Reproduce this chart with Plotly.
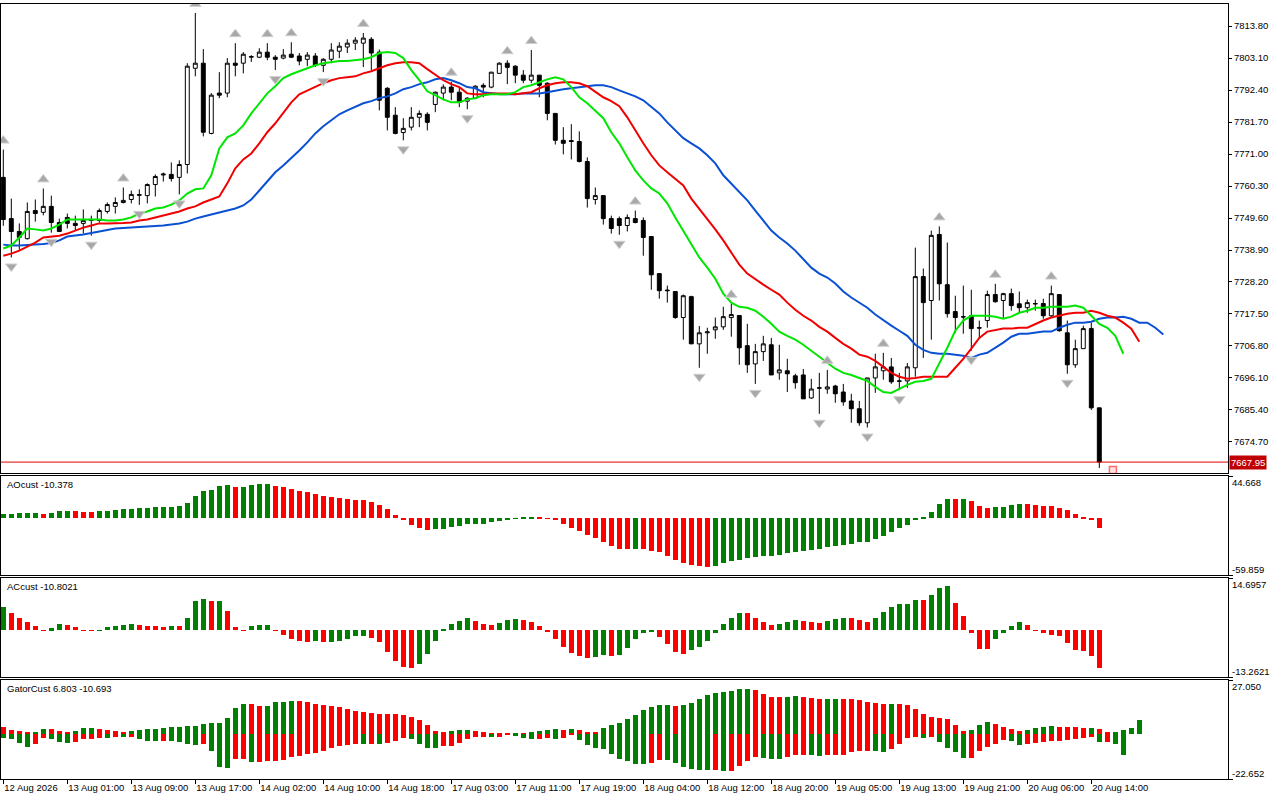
import plotly.graph_objects as go

# H1 bars, 12 Aug 2026 17:00 .. 20 Aug 2026 15:00
OPEN = [
    7763.2, 7749.4, 7745.1, 7742.7, 7752.1, 7751.5, 7753.5, 7748.1, 7749.8, 7747.8,
    7747.8, 7748.8, 7748.8, 7751.8, 7753.5, 7754.8, 7755.8, 7757.2, 7757.1, 7760.8,
    7764.0, 7764.2, 7763.2, 7767.5, 7799.7, 7801.4, 7777.9, 7791.4, 7791.4, 7801.4,
    7801.4, 7803.4, 7803.4, 7805.1, 7803.4, 7803.1, 7804.4, 7803.8, 7802.7, 7803.8,
    7800.7, 7802.7, 7805.4, 7806.8, 7808.1, 7808.1, 7809.4, 7805.1, 7793.0, 7784.0,
    7778.2, 7780.0, 7783.3, 7784.3, 7787.6, 7791.4, 7793.4, 7791.7, 7788.7, 7789.7,
    7794.0, 7793.4, 7798.0, 7801.4, 7800.4, 7797.4, 7795.7, 7797.4, 7794.7, 7784.6,
    7775.6, 7775.5, 7775.2, 7768.5, 7755.8, 7757.1, 7749.4, 7749.4, 7747.1, 7749.4,
    7748.8, 7743.4, 7731.0, 7725.5, 7725.0, 7716.3, 7723.3, 7707.5, 7711.2, 7712.2,
    7713.2, 7716.3, 7717.0, 7706.9, 7700.8, 7704.9, 7707.2, 7697.8, 7698.5, 7696.8,
    7697.1, 7689.4, 7692.8, 7692.4, 7693.4, 7691.4, 7688.4, 7685.8, 7681.1, 7696.1,
    7698.5, 7699.8, 7695.1, 7695.1, 7699.5, 7730.0, 7722.0, 7744.1, 7727.3, 7718.3,
    7716.6, 7716.9, 7712.9, 7715.3, 7724.0, 7722.0, 7724.3, 7720.9, 7719.6, 7721.0,
    7721.0, 7716.9, 7724.0, 7711.2, 7700.5, 7705.9, 7712.6, 7686.1,
]
HIGH = [
    7772.5, 7756.1, 7747.8, 7754.8, 7755.8, 7759.5, 7757.1, 7749.4, 7751.1, 7750.4,
    7752.5, 7750.4, 7752.8, 7754.8, 7756.5, 7759.8, 7758.8, 7759.2, 7761.2, 7764.2,
    7764.8, 7768.2, 7768.9, 7801.4, 7818.2, 7806.1, 7791.4, 7798.4, 7803.1, 7808.1,
    7805.1, 7804.1, 7806.4, 7808.1, 7804.1, 7806.1, 7808.4, 7804.8, 7805.1, 7804.8,
    7803.1, 7808.1, 7808.4, 7809.4, 7810.1, 7811.5, 7810.1, 7806.0, 7793.4, 7786.7,
    7783.0, 7786.7, 7785.6, 7785.0, 7791.9, 7794.3, 7795.2, 7793.4, 7790.0, 7794.0,
    7794.7, 7798.4, 7801.7, 7802.4, 7800.7, 7799.1, 7805.8, 7797.4, 7795.0, 7784.6,
    7780.0, 7781.0, 7778.6, 7769.9, 7759.8, 7757.1, 7750.4, 7750.1, 7750.8, 7752.1,
    7749.8, 7743.4, 7731.0, 7727.0, 7725.0, 7724.0, 7723.6, 7713.5, 7712.9, 7716.3,
    7719.9, 7720.9, 7717.0, 7714.2, 7707.5, 7710.2, 7709.5, 7707.2, 7702.5, 7697.5,
    7699.1, 7695.8, 7697.8, 7698.8, 7693.8, 7694.1, 7690.8, 7688.4, 7696.1, 7704.2,
    7704.5, 7702.8, 7697.8, 7701.1, 7739.7, 7732.7, 7745.4, 7746.8, 7741.4, 7723.6,
    7727.0, 7725.6, 7715.3, 7725.3, 7727.6, 7724.6, 7726.0, 7725.0, 7722.3, 7722.3,
    7722.6, 7727.0, 7724.0, 7715.3, 7708.9, 7713.6, 7714.6, 7686.1,
]
LOW = [
    7747.0, 7736.4, 7739.0, 7742.4, 7748.4, 7750.5, 7744.7, 7744.9, 7746.1, 7745.4,
    7744.4, 7743.7, 7748.1, 7751.1, 7751.1, 7754.5, 7754.5, 7754.0, 7754.5, 7756.8,
    7761.8, 7761.8, 7757.5, 7764.5, 7797.0, 7776.9, 7777.6, 7789.7, 7790.0, 7797.0,
    7798.0, 7801.8, 7803.1, 7802.4, 7799.1, 7802.7, 7803.1, 7800.7, 7800.4, 7800.1,
    7798.4, 7801.4, 7803.1, 7804.8, 7805.8, 7800.1, 7799.1, 7785.6, 7778.9, 7777.6,
    7775.6, 7778.9, 7780.0, 7778.9, 7785.0, 7789.0, 7789.0, 7786.7, 7786.0, 7789.4,
    7790.0, 7793.0, 7798.0, 7794.4, 7794.7, 7794.7, 7794.7, 7790.0, 7782.3, 7774.2,
    7770.9, 7769.2, 7768.2, 7753.1, 7754.1, 7747.4, 7744.4, 7744.0, 7745.1, 7747.8,
    7737.0, 7725.6, 7722.6, 7721.3, 7715.9, 7708.9, 7707.5, 7699.5, 7704.2, 7709.2,
    7712.2, 7709.9, 7700.5, 7697.8, 7694.1, 7701.8, 7697.1, 7695.5, 7691.4, 7692.5,
    7689.1, 7689.1, 7684.1, 7690.8, 7687.8, 7686.8, 7681.1, 7680.1, 7679.5, 7691.1,
    7695.5, 7694.1, 7692.0, 7692.8, 7696.5, 7702.8, 7708.9, 7722.0, 7716.3, 7711.2,
    7710.9, 7705.2, 7709.2, 7712.9, 7721.3, 7715.9, 7718.6, 7717.9, 7717.9, 7718.6,
    7715.9, 7716.3, 7711.6, 7697.5, 7699.5, 7705.9, 7685.4, 7666.0,
]
CLOSE = [
    7749.1, 7745.1, 7743.1, 7751.8, 7751.1, 7753.5, 7748.1, 7745.1, 7747.8, 7747.1,
    7748.8, 7749.0, 7752.1, 7754.1, 7754.8, 7755.5, 7757.5, 7757.4, 7760.8, 7763.5,
    7764.3, 7762.8, 7767.5, 7800.4, 7801.4, 7778.3, 7790.7, 7790.7, 7801.4, 7800.7,
    7804.4, 7803.6, 7805.1, 7803.4, 7802.7, 7804.1, 7803.4, 7802.1, 7804.1, 7800.7,
    7802.7, 7805.8, 7807.1, 7808.1, 7809.1, 7809.8, 7804.8, 7789.0, 7783.3, 7777.9,
    7779.6, 7783.3, 7784.6, 7781.6, 7791.7, 7793.4, 7791.7, 7788.3, 7789.7, 7793.7,
    7793.4, 7798.4, 7801.4, 7800.0, 7797.4, 7795.7, 7797.4, 7794.0, 7784.6, 7775.6,
    7774.6, 7775.2, 7768.5, 7756.1, 7757.1, 7749.4, 7746.1, 7747.1, 7749.8, 7748.1,
    7743.1, 7730.6, 7725.3, 7725.3, 7716.3, 7723.6, 7707.5, 7711.2, 7711.5, 7713.2,
    7716.6, 7717.3, 7706.2, 7700.5, 7704.9, 7707.5, 7697.1, 7698.8, 7697.5, 7694.5,
    7689.1, 7692.4, 7692.7, 7693.1, 7690.8, 7688.1, 7685.8, 7681.1, 7696.1, 7699.8,
    7699.8, 7694.8, 7695.0, 7699.8, 7730.0, 7721.3, 7743.8, 7727.6, 7717.6, 7716.3,
    7716.5, 7712.6, 7712.8, 7724.0, 7721.6, 7724.3, 7720.3, 7719.6, 7721.3, 7720.9,
    7716.9, 7724.3, 7711.9, 7700.5, 7705.9, 7712.6, 7686.1, 7667.95,
]

# Alligator lines (already shifted forward: jaw +8, teeth +5, lips +3 bars)
JAW = [
    7740.7, 7740.4, 7740.4, 7740.5, 7740.7, 7740.9, 7741.2, 7742.1, 7743.4, 7743.7,
    7744.1, 7744.6, 7745.1, 7745.6, 7746.1, 7746.3, 7746.4, 7746.6, 7746.8, 7746.9,
    7747.1, 7747.4, 7747.8, 7748.4, 7749.4, 7750.1, 7750.8, 7751.5, 7752.1, 7752.8,
    7753.8, 7755.8, 7758.8, 7761.8, 7764.9, 7767.2, 7769.6, 7772.2, 7774.9, 7777.9,
    7780.3, 7782.3, 7784.3, 7785.6, 7786.7, 7788.0, 7788.7, 7789.7, 7790.3, 7791.3,
    7792.7, 7793.4, 7794.4, 7795.0, 7796.0, 7796.4, 7795.7, 7794.7, 7793.4, 7793.0,
    7791.7, 7791.3, 7791.0, 7791.0, 7791.0, 7791.3, 7791.3, 7791.3, 7791.7, 7792.3,
    7792.7, 7793.0, 7793.4, 7793.7, 7794.0, 7794.0, 7793.4, 7792.3, 7791.3, 7790.3,
    7789.0, 7786.7, 7784.6, 7781.6, 7778.9, 7776.3, 7774.6, 7772.9, 7770.6, 7767.9,
    7763.9, 7761.2, 7758.2, 7755.5, 7752.1, 7748.8, 7745.4, 7743.1, 7741.1, 7738.7,
    7736.0, 7733.0, 7731.0, 7729.7, 7727.7, 7725.0, 7723.0, 7721.3, 7719.6, 7717.3,
    7715.3, 7713.6, 7711.9, 7710.2, 7707.2, 7705.5, 7704.5, 7704.2, 7704.2, 7703.9,
    7703.5, 7702.8, 7703.9, 7704.5, 7706.2, 7707.9, 7709.9, 7710.9, 7710.9, 7711.2,
    7711.6, 7711.6, 7712.9, 7713.9, 7714.6, 7714.6, 7714.9, 7715.9, 7716.3, 7716.3,
    7716.6, 7715.9, 7714.6, 7714.6, 7712.9, 7710.6,
]
TEETH = [
    7737.0, 7737.7, 7738.7, 7740.1, 7741.4, 7743.1, 7743.4, 7743.7, 7744.4, 7745.4,
    7746.4, 7747.1, 7747.8, 7747.8, 7747.8, 7747.9, 7748.1, 7748.8, 7749.1, 7749.8,
    7750.4, 7751.1, 7751.8, 7752.8, 7753.5, 7754.8, 7755.8, 7756.8, 7761.2, 7766.2,
    7769.2, 7771.2, 7774.6, 7778.3, 7781.3, 7784.6, 7788.3, 7791.0, 7792.3, 7793.4,
    7794.7, 7795.7, 7796.4, 7796.7, 7797.0, 7798.0, 7798.7, 7799.7, 7800.7, 7801.4,
    7801.7, 7801.7, 7801.4, 7799.4, 7797.4, 7795.7, 7794.4, 7793.4, 7791.3, 7791.0,
    7791.0, 7791.3, 7791.3, 7791.3, 7791.0, 7791.3, 7791.7, 7793.0, 7794.0, 7794.7,
    7795.0, 7795.0, 7794.7, 7793.7, 7791.7, 7790.0, 7788.7, 7787.0, 7783.3, 7778.9,
    7774.6, 7770.6, 7767.2, 7764.9, 7762.8, 7760.5, 7756.1, 7752.8, 7749.4, 7745.8,
    7742.1, 7738.0, 7734.0, 7731.0, 7729.0, 7727.3, 7725.6, 7724.0, 7721.3, 7718.9,
    7716.9, 7715.3, 7713.2, 7711.6, 7709.5, 7707.5, 7705.9, 7703.9, 7703.2, 7701.8,
    7699.8, 7697.8, 7696.5, 7695.8, 7696.1, 7696.5, 7696.5, 7696.5, 7696.5, 7699.5,
    7702.5, 7705.9, 7709.5, 7711.6, 7712.2, 7712.6, 7712.6, 7712.9, 7712.9, 7714.2,
    7715.3, 7716.3, 7716.9, 7717.6, 7717.9, 7717.9, 7718.6, 7717.9, 7716.9, 7716.3,
    7714.6, 7712.6, 7708.2,
]
LIPS = [
    7739.4, 7740.4, 7743.1, 7746.1, 7745.8, 7745.4, 7746.1, 7747.4, 7749.1, 7749.1,
    7749.1, 7749.1, 7749.1, 7748.8, 7748.8, 7749.1, 7749.8, 7751.1, 7751.8, 7752.8,
    7753.1, 7754.1, 7755.5, 7757.8, 7759.2, 7759.5, 7763.9, 7772.9, 7776.6, 7777.9,
    7780.6, 7784.6, 7788.0, 7791.3, 7793.7, 7796.4, 7797.7, 7798.7, 7799.7, 7800.7,
    7801.4, 7801.7, 7802.1, 7802.1, 7802.4, 7802.7, 7803.4, 7804.8, 7805.1, 7804.8,
    7803.1, 7799.1, 7795.7, 7792.0, 7790.7, 7789.3, 7788.3, 7788.3, 7789.3, 7789.7,
    7790.7, 7791.0, 7791.0, 7791.0, 7791.7, 7793.4, 7794.0, 7795.0, 7796.0, 7796.7,
    7796.0, 7793.4, 7790.0, 7788.0, 7785.6, 7783.0, 7778.3, 7774.6, 7769.9, 7765.5,
    7762.2, 7759.5, 7757.8, 7754.5, 7749.8, 7745.4, 7741.1, 7736.4, 7733.0, 7729.3,
    7724.3, 7721.3, 7719.9, 7719.6, 7718.6, 7716.6, 7714.2, 7711.6, 7710.2, 7708.9,
    7707.2, 7705.2, 7703.2, 7701.2, 7699.2, 7697.8, 7697.1, 7696.1, 7695.1, 7693.1,
    7691.4, 7691.1, 7692.5, 7693.8, 7694.8, 7695.1, 7695.8, 7700.8, 7706.2, 7711.9,
    7715.3, 7716.9, 7716.9, 7716.9, 7716.6, 7715.9, 7716.6, 7717.9, 7718.6, 7719.6,
    7719.6, 7719.9, 7719.9, 7719.9, 7720.3, 7719.6, 7716.9, 7714.2, 7712.9, 7710.2,
    7704.2,
]

FRACTAL_UP = [0, 5, 15, 24, 29, 33, 36, 45, 56, 63, 66, 79, 91, 103, 110, 117, 124, 131]
FRACTAL_DOWN = [1, 6, 11, 17, 22, 34, 40, 50, 58, 77, 87, 94, 102, 108, 112, 121, 133]

AO = [
    4.6, 4.7, 5.6, 5.7, 5.8, 4.6, 5.6, 8.1, 8.2, 8.0,
    7.0, 6.9, 7.7, 8.1, 9.2, 9.5, 10.2, 11.3, 11.4, 11.5,
    12.3, 12.4, 13.4, 16.5, 23.9, 28.5, 30.3, 34.5, 35.6, 32.7,
    33.5, 35.6, 35.7, 35.8, 34.5, 33.5, 31.3, 29.2, 28.2, 26.1,
    23.9, 22.5, 21.8, 20.8, 19.7, 19.0, 17.6, 14.4, 9.5, 3.9,
    -1.4, -6.7, -10.6, -12.7, -11.3, -10.9, -9.5, -7.7, -6.3, -6.2,
    -5.6, -4.2, -2.8, -1.1, -0.7, 0.5, 1.4, 1.1, -0.7, -2.1,
    -5.6, -9.9, -13.7, -18.0, -21.1, -24.6, -29.0, -32.4, -32.7, -32.5,
    -32.8, -34.1, -35.9, -39.4, -43.7, -47.2, -48.9, -50.7, -50.9, -50.5,
    -47.5, -45.4, -43.7, -41.5, -40.5, -40.3, -39.4, -38.4, -37.0, -35.2,
    -34.2, -33.5, -32.7, -30.6, -28.9, -27.8, -26.8, -25.4, -24.6, -21.5,
    -18.3, -14.4, -10.6, -7.4, -2.1, 1.4, 7.0, 15.1, 20.4, 20.2,
    20.8, 18.7, 13.0, 11.3, 12.0, 12.2, 14.4, 15.1, 15.0, 14.1,
    13.4, 13.2, 10.9, 8.5, 4.9, 1.8, -1.4, -10.378,
]
AO_BEFORE = 4.4

AC = [
    6.4, 4.8, 3.4, 2.3, 1.1, -0.15, 0.55, 1.7, 1.4, 0.75,
    -0.1, -0.15, -0.05, 0.85, 1.1, 1.4, 1.7, 1.4, 1.1, 1.05,
    0.85, 1.1, 1.05, 3.4, 8.1, 8.9, 8.1, 8.15, 5.3, 0.85,
    -0.1, 1.1, 1.4, 1.45, -0.2, -1.4, -2.5, -3.1, -3.4, -3.1,
    -3.4, -3.3, -3.1, -2.5, -1.7, -1.65, -2.2, -3.4, -6.2, -8.7,
    -10.3, -10.6, -9.5, -6.7, -3.1, 0.3, 1.7, 2.5, 3.4, 2.5,
    1.7, 1.4, 2.0, 2.8, 3.1, 2.8, 2.2, 1.1, -0.5, -2.5,
    -4.8, -6.4, -7.3, -7.8, -7.75, -7.0, -7.3, -7.0, -5.0, -2.5,
    -0.85, -0.55, -2.0, -3.9, -6.2, -6.7, -5.6, -4.8, -3.1, -0.85,
    1.7, 3.4, 4.8, 4.75, 3.4, 2.2, 1.4, 1.7, 2.2, 2.8,
    2.5, 2.2, 2.0, 2.5, 3.1, 3.4, 3.35, 2.8, 2.2, 3.4,
    5.0, 6.4, 7.3, 7.35, 8.4, 8.35, 9.8, 12.0, 12.3, 7.6,
    3.9, -0.8, -5.3, -5.35, -2.5, -0.8, 1.1, 2.2, 1.4, -0.25,
    -0.8, -1.4, -1.7, -3.6, -5.6, -5.9, -7.3, -10.8021,
]
AC_BEFORE = 6.0

GATOR_UP = [
    3.5, 2.0, 1.5, 0.5, 0.55, 2.5, 2.4, 1.5, 1.0, 1.5,
    3.0, 3.05, 2.5, 2.0, 1.5, 1.0, 1.5, 2.0, 2.5, 2.55,
    3.0, 3.5, 3.55, 4.0, 4.05, 5.0, 5.5, 5.55, 8.0, 13.0,
    15.0, 14.9, 14.0, 14.05, 16.0, 16.05, 16.5, 16.45, 16.0, 15.0,
    14.5, 14.0, 13.5, 12.5, 11.5, 11.0, 10.5, 10.0, 9.95, 9.9,
    9.5, 8.5, 7.0, 4.5, 1.5, 0.5, 1.5, 2.0, 2.05, 1.5,
    0.5, 0.1, 0.05, 0.02, 0.01, 0.005, 0.5, 1.5, 2.0, 2.5,
    2.0, 2.5, 2.0, 1.0, 0.5, 3.0, 4.5, 5.5, 7.5, 9.5,
    12.0, 13.5, 14.5, 14.55, 14.0, 14.5, 15.5, 17.5, 19.5, 20.5,
    21.0, 21.5, 22.5, 22.55, 22.0, 20.0, 18.5, 18.45, 18.5, 19.0,
    18.5, 18.0, 17.5, 17.55, 17.6, 17.5, 17.45, 17.0, 16.0, 15.5,
    15.0, 15.05, 15.0, 14.5, 12.5, 10.0, 8.5, 8.0, 7.5, 4.5,
    1.5, 2.0, 4.5, 6.0, 5.0, 3.5, 2.5, 1.5, 2.0, 3.0,
    3.5, 4.0, 3.5, 3.45, 3.4, 3.0, 3.05, 2.5, 0.5, 1.0,
    2.0, 3.0, 6.803,
]
GATOR_DOWN = [
    -2.0, -2.5, -4.5, -6.5, -5.0, -2.0, -2.5, -4.0, -4.5, -4.0,
    -2.5, -2.45, -2.0, -2.05, -1.5, -1.55, -1.5, -2.5, -3.5, -3.55,
    -3.5, -3.6, -4.0, -5.0, -5.5, -5.0, -8.5, -16.5, -17.0, -12.5,
    -12.4, -14.0, -13.9, -13.5, -13.45, -13.0, -11.5, -11.0, -10.0, -9.5,
    -8.5, -7.0, -6.0, -5.5, -5.0, -5.05, -5.0, -5.05, -4.5, -3.5,
    -2.0, -2.5, -5.0, -7.0, -7.05, -6.0, -5.95, -4.5, -2.5, -1.5,
    -1.45, -1.5, -1.45, -0.5, -1.0, -2.0, -2.5, -2.45, -2.0, -2.5,
    -2.0, -0.5, -3.0, -5.5, -7.0, -7.5, -10.0, -12.5, -13.5, -15.0,
    -15.05, -14.5, -13.0, -13.05, -14.5, -16.5, -17.5, -18.0, -18.05, -18.0,
    -18.5, -18.45, -16.0, -13.5, -11.5, -12.0, -12.5, -12.55, -11.5, -10.5,
    -10.45, -10.5, -11.0, -10.5, -10.45, -10.4, -9.0, -8.5, -8.45, -8.5,
    -9.0, -7.5, -5.0, -2.0, -1.5, -2.0, -1.5, -4.0, -7.0, -9.0,
    -12.0, -11.95, -8.5, -6.5, -5.0, -3.0, -3.5, -5.5, -5.0, -4.5,
    -4.0, -3.5, -3.45, -3.0, -2.5, -2.0, -1.5, -4.0, -3.95, -5.0,
    -10.693,
]
GATOR_UP_BEFORE = 4.0
GATOR_DOWN_BEFORE = -1.5

TIME_LABELS = [
    "12 Aug 2026", "13 Aug 01:00", "13 Aug 09:00", "13 Aug 17:00", "14 Aug 02:00",
    "14 Aug 10:00", "14 Aug 18:00", "17 Aug 03:00", "17 Aug 11:00", "17 Aug 19:00",
    "18 Aug 04:00", "18 Aug 12:00", "18 Aug 20:00", "19 Aug 05:00", "19 Aug 13:00",
    "19 Aug 21:00", "20 Aug 06:00", "20 Aug 14:00",
]
LABEL_EVERY = 8

PRICE_TICKS = [7813.80, 7803.10, 7792.40, 7781.70, 7771.00, 7760.30, 7749.60,
               7738.90, 7728.20, 7717.50, 7706.80, 7696.10, 7685.40, 7674.70]
PRICE_RANGE = [7664.3, 7821.2]
AO_RANGE = [-59.859, 44.668]
AC_RANGE = [-13.2621, 14.6957]
GATOR_RANGE = [-22.652, 27.050]

LAST_PRICE = 7667.95
ORDER_MARK = (138.7, 7665.3)

GREEN = '#008000'
RED = '#ff0000'
FONT = 'Liberation Sans, Arial, sans-serif'

W, H = 1280, 800
PANE_LEFT, PANE_RIGHT = 1, 1228          # pixels
PANES = {'main': (4, 473), 'ao': (476, 575), 'ac': (578, 677), 'gator': (680, 779)}
BAR_PX = 8
FIRST_BAR_PX = 3.3


def ydom(top, bottom):
    return [1 - bottom / H, 1 - top / H]


def colors(vals, before, use_abs=False):
    out = []
    prev = before
    for v in vals:
        a, b = (abs(v), abs(prev)) if use_abs else (v, prev)
        out.append(GREEN if a > b else RED)
        prev = v
    return out


n = len(CLOSE)
x = list(range(n))
xr0 = -(FIRST_BAR_PX - PANE_LEFT) / BAR_PX
xr1 = xr0 + (PANE_RIGHT - PANE_LEFT) / BAR_PX
xdom = [PANE_LEFT / W, PANE_RIGHT / W]

fig = go.Figure()

fig.add_trace(go.Candlestick(
    x=x, open=OPEN, high=HIGH, low=LOW, close=CLOSE,
    increasing=dict(line=dict(color='black', width=1), fillcolor='white'),
    decreasing=dict(line=dict(color='black', width=1), fillcolor='black'),
    whiskerwidth=0, showlegend=False, hoverinfo='skip',
    xaxis='x', yaxis='y'))

for vals, col in [(JAW, '#0a50d2'), (TEETH, '#f00000'), (LIPS, '#00e600')]:
    fig.add_trace(go.Scatter(
        x=list(range(len(vals))), y=vals, mode='lines',
        line=dict(color=col, width=2), showlegend=False, hoverinfo='skip',
        xaxis='x', yaxis='y'))

# fractal arrows sit a few pixels off the extreme
main_px = PANES['main'][1] - PANES['main'][0]
off = 9 * (PRICE_RANGE[1] - PRICE_RANGE[0]) / main_px
arrow_style = dict(size=10, color='#a8a8a8', line=dict(color='#d0d0d0', width=1))
fig.add_trace(go.Scatter(
    x=FRACTAL_UP, y=[HIGH[i] + off for i in FRACTAL_UP], mode='markers',
    marker=dict(symbol='triangle-up', **arrow_style),
    showlegend=False, hoverinfo='skip', xaxis='x', yaxis='y'))
fig.add_trace(go.Scatter(
    x=FRACTAL_DOWN, y=[LOW[i] - off for i in FRACTAL_DOWN], mode='markers',
    marker=dict(symbol='triangle-down', **arrow_style),
    showlegend=False, hoverinfo='skip', xaxis='x', yaxis='y'))

fig.add_trace(go.Scatter(
    x=[ORDER_MARK[0]], y=[ORDER_MARK[1]], mode='markers',
    marker=dict(symbol='square', size=7, color='rgba(255,200,200,0.5)',
                line=dict(color='#ff6a6a', width=1.5)),
    showlegend=False, hoverinfo='skip', xaxis='x', yaxis='y'))

fig.add_trace(go.Bar(x=list(range(len(AO))), y=AO, width=0.55,
                     marker=dict(color=colors(AO, AO_BEFORE), line=dict(width=0)),
                     showlegend=False, hoverinfo='skip', xaxis='x2', yaxis='y2'))
fig.add_trace(go.Bar(x=list(range(len(AC))), y=AC, width=0.55,
                     marker=dict(color=colors(AC, AC_BEFORE), line=dict(width=0)),
                     showlegend=False, hoverinfo='skip', xaxis='x3', yaxis='y3'))
fig.add_trace(go.Bar(x=list(range(len(GATOR_UP))), y=GATOR_UP, width=0.55,
                     marker=dict(color=colors(GATOR_UP, GATOR_UP_BEFORE), line=dict(width=0)),
                     showlegend=False, hoverinfo='skip', xaxis='x4', yaxis='y4'))
fig.add_trace(go.Bar(x=list(range(len(GATOR_DOWN))), y=GATOR_DOWN, width=0.55,
                     marker=dict(color=colors(GATOR_DOWN, GATOR_DOWN_BEFORE, True), line=dict(width=0)),
                     showlegend=False, hoverinfo='skip', xaxis='x4', yaxis='y4'))

axis_common = dict(showline=True, mirror=True, linecolor='black', linewidth=1,
                   showgrid=False, zeroline=False, automargin=False)
tick_font = dict(family=FONT, size=9.5, color='black')

layout = dict(
    width=W, height=H, margin=dict(l=0, r=0, t=0, b=0, autoexpand=False),
    paper_bgcolor='white', plot_bgcolor='white',
    barmode='overlay', bargap=0, showlegend=False,
    font=dict(family=FONT, size=9.5, color='black'),
)
for k, anchor in enumerate(['y', 'y2', 'y3', 'y4']):
    xa = dict(axis_common, domain=xdom, range=[xr0, xr1], anchor=anchor,
              showticklabels=False, ticks='', rangeslider=dict(visible=False))
    if k:
        xa['matches'] = 'x'
    layout['xaxis' if k == 0 else 'xaxis%d' % (k + 1)] = xa

layout['xaxis4'].update(
    showticklabels=True, ticks='outside', ticklen=4, tickcolor='black', tickangle=0,
    tickvals=[i * LABEL_EVERY for i in range(len(TIME_LABELS))], ticktext=TIME_LABELS,
    ticklabelposition='outside right', tickfont=dict(family=FONT, size=9.5, color='black'))

layout['yaxis'] = dict(axis_common, domain=ydom(*PANES['main']), range=PRICE_RANGE,
                       side='right', anchor='x', tickvals=PRICE_TICKS,
                       ticktext=['%.2f' % v for v in PRICE_TICKS],
                       ticks='outside', ticklen=3, tickcolor='black', tickfont=tick_font)
for name, key, rng in [('ao', 'yaxis2', AO_RANGE), ('ac', 'yaxis3', AC_RANGE),
                       ('gator', 'yaxis4', GATOR_RANGE)]:
    layout[key] = dict(axis_common, domain=ydom(*PANES[name]), range=rng, side='right',
                       anchor='x' + key[-1], tickvals=rng, ticks='outside', ticklen=4,
                       tickcolor='black', showticklabels=False)

fig.update_layout(**layout)

# current price line and its label
fig.add_shape(type='line', xref='x', yref='y', x0=xr0, x1=xr1, y0=LAST_PRICE, y1=LAST_PRICE,
              line=dict(color='#e00000', width=1))
fig.add_annotation(xref='paper', yref='y', x=PANE_RIGHT / W, y=LAST_PRICE, xanchor='left',
                   text='%.2f' % LAST_PRICE, showarrow=False, bgcolor='#c00000',
                   font=dict(family=FONT, size=9.5, color='white'), borderpad=1, xshift=1)

# scale labels for the indicator panes, drawn just inside the pane edges
scale_fmt = {'y2': '%.3f', 'y3': '%.4f', 'y4': '%.3f'}
for yref, rng in [('y2', AO_RANGE), ('y3', AC_RANGE), ('y4', GATOR_RANGE)]:
    for v, shift in [(rng[1], -6), (rng[0], 6)]:
        fig.add_annotation(xref='paper', yref=yref, x=PANE_RIGHT / W, y=v, xanchor='left',
                           yshift=shift, xshift=2, text=scale_fmt[yref] % v, showarrow=False,
                           font=tick_font)

titles = [('ao', 'AOcust %.3f' % AO[-1]),
          ('ac', 'ACcust %.4f' % AC[-1]),
          ('gator', 'GatorCust %.3f %.3f' % (GATOR_UP[-1], GATOR_DOWN[-1]))]
for name, txt in titles:
    top = PANES[name][0]
    fig.add_annotation(xref='paper', yref='paper', x=5 / W, y=1 - (top + 8) / H,
                       xanchor='left', yanchor='middle', text=txt, showarrow=False,
                       font=dict(family=FONT, size=9.5, color='black'))

fig.write_html("out.html", config={'displayModeBar': False},
               post_script="document.body.style.margin = '0';")
